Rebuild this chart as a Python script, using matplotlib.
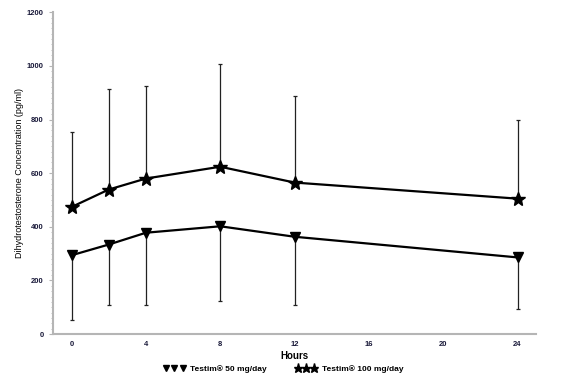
# Dihydrotestosterone concentration over 24 hours, two Testim doses
import matplotlib.pyplot as plt
from matplotlib.lines import Line2D
from matplotlib.ticker import MultipleLocator

plt.rcParams["font.family"] = ["Liberation Sans", "DejaVu Sans"]

hours = [0, 2, 4, 8, 12, 24]
mean_50 = [294, 334, 378, 402, 363, 286]
low_50 = [51, 109, 109, 123, 109, 95]
mean_100 = [474, 539, 580, 624, 565, 505]
high_100 = [755, 912, 924, 1006, 887, 797]

fig = plt.figure(figsize=(5.67, 3.81), dpi=100)
ax = fig.add_axes([0.0935, 0.123, 0.852, 0.845])

# one-sided error bars: down for 50 mg, up for 100 mg
err_50 = [[m - lo for m, lo in zip(mean_50, low_50)], [0] * len(hours)]
err_100 = [[0] * len(hours), [hi - m for m, hi in zip(mean_100, high_100)]]

ax.errorbar(hours, mean_50, yerr=err_50, fmt="none", ecolor="#222222",
            elinewidth=0.9, capsize=1.5, capthick=0.9, zorder=2)
ax.errorbar(hours, mean_100, yerr=err_100, fmt="none", ecolor="#222222",
            elinewidth=0.9, capsize=1.5, capthick=0.9, zorder=2)

ax.plot(hours, mean_50, color="black", linewidth=1.6, marker="v",
        markersize=7, zorder=3)
ax.plot(hours, mean_100, color="black", linewidth=1.6, marker="*",
        markersize=10, zorder=3)

ax.set_xlim(-1, 25)
ax.set_ylim(0, 1200)
ax.set_xticks(range(0, 25, 4))
ax.set_yticks(range(0, 1201, 200))
ax.yaxis.set_minor_locator(MultipleLocator(20))

for side in ("top", "right"):
    ax.spines[side].set_visible(False)
for side in ("left", "bottom"):
    ax.spines[side].set_color("#b5b5b5")
    ax.spines[side].set_linewidth(1.5)

ax.tick_params(axis="both", which="major", labelsize=5.5, length=3,
               color="#b5b5b5", labelcolor="#1a1a3a")
ax.tick_params(axis="x", length=0, pad=5)
ax.tick_params(axis="y", which="minor", length=1.5, color="#b5b5b5")
for lab in ax.get_xticklabels() + ax.get_yticklabels():
    lab.set_fontweight("bold")

ax.set_xlabel("Hours", fontsize=7, fontweight="bold", labelpad=2)
ax.set_ylabel("Dihydrotestosterone Concentration (pg/ml)", fontsize=6.5,
              labelpad=2)

handles = [
    Line2D([], [], linestyle="none", marker="v", color="black", markersize=5),
    Line2D([], [], linestyle="none", marker="*", color="black", markersize=6.5),
]
leg = fig.legend(handles, ["Testim\u00ae 50 mg/day", "Testim\u00ae 100 mg/day"],
                 loc="center", bbox_to_anchor=(0.5, 0.031), ncol=2,
                 numpoints=3, frameon=False, handlelength=2.6,
                 handletextpad=0.6, columnspacing=3.4,
                 prop={"size": 6, "weight": "bold"})

fig.savefig("out.png", dpi=100, facecolor="white")
